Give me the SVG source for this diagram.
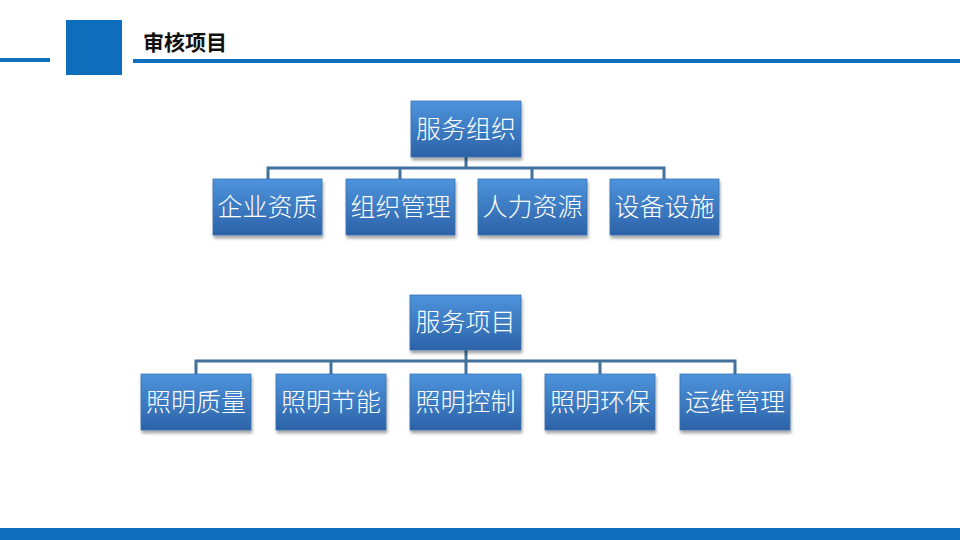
<svg xmlns="http://www.w3.org/2000/svg" width="960" height="540" viewBox="0 0 960 540">
<style>
.b{fill:url(#g);stroke:#3a70b0;stroke-width:0.8;filter:url(#s)}
.t{fill:#fff;font-family:"Noto Sans CJK SC",sans-serif;font-size:25px;text-anchor:middle;font-weight:300}
.c{fill:none;stroke:#41719c;stroke-width:3}
</style>
<defs>
<linearGradient id="g" x1="0" y1="0" x2="0" y2="1"><stop offset="0" stop-color="#4d94dc"/><stop offset="1" stop-color="#2c62a8"/></linearGradient>
<filter id="s" x="-10%" y="-10%" width="130%" height="130%"><feDropShadow dx="1" dy="3" stdDeviation="1.5" flood-color="#000" flood-opacity="0.35"/></filter>
</defs>
<rect width="960" height="540" fill="#fff"/>
<rect x="0" y="58" width="50" height="4" fill="#1070bc"/>
<rect x="66" y="20" width="56" height="55" fill="#0e6ebc"/>
<rect x="133" y="59" width="827" height="4" fill="#1070bc"/>
<text x="143" y="50" font-family="Noto Sans CJK SC,sans-serif" font-size="21" font-weight="bold" fill="#111">审核项目</text>
<rect x="0" y="528" width="960" height="12" fill="#0e6ebc"/>
<g id="connectors">
<path class="c" d="M466 157V168M268 179V168H664V179M400 168V179M532 168V179"/>
<path class="c" d="M466 350V361M196 374V361H735V374M331 361V374M466 361V374M600 361V374"/>
</g>
<g id="n1"><rect class="b" x="411" y="101" width="110" height="56"/><text class="t" x="466" y="138">服务组织</text></g>
<g id="n2"><rect class="b" x="213" y="179" width="109" height="56"/><text class="t" x="267.500" y="216">企业资质</text></g>
<g id="n3"><rect class="b" x="346" y="179" width="109" height="56"/><text class="t" x="400.500" y="216">组织管理</text></g>
<g id="n4"><rect class="b" x="478" y="179" width="109" height="56"/><text class="t" x="532.500" y="216">人力资源</text></g>
<g id="n5"><rect class="b" x="610" y="179" width="109" height="56"/><text class="t" x="664.500" y="216">设备设施</text></g>
<g id="n6"><rect class="b" x="410" y="295" width="111" height="55"/><text class="t" x="465.500" y="331">服务项目</text></g>
<g id="n7"><rect class="b" x="141" y="374" width="110" height="56"/><text class="t" x="196" y="411">照明质量</text></g>
<g id="n8"><rect class="b" x="276" y="374" width="110" height="56"/><text class="t" x="331" y="411">照明节能</text></g>
<g id="n9"><rect class="b" x="410" y="374" width="111" height="56"/><text class="t" x="465.500" y="411">照明控制</text></g>
<g id="n10"><rect class="b" x="545" y="374" width="110" height="56"/><text class="t" x="600" y="411">照明环保</text></g>
<g id="n11"><rect class="b" x="680" y="374" width="110" height="56"/><text class="t" x="735" y="411">运维管理</text></g>
</svg>
